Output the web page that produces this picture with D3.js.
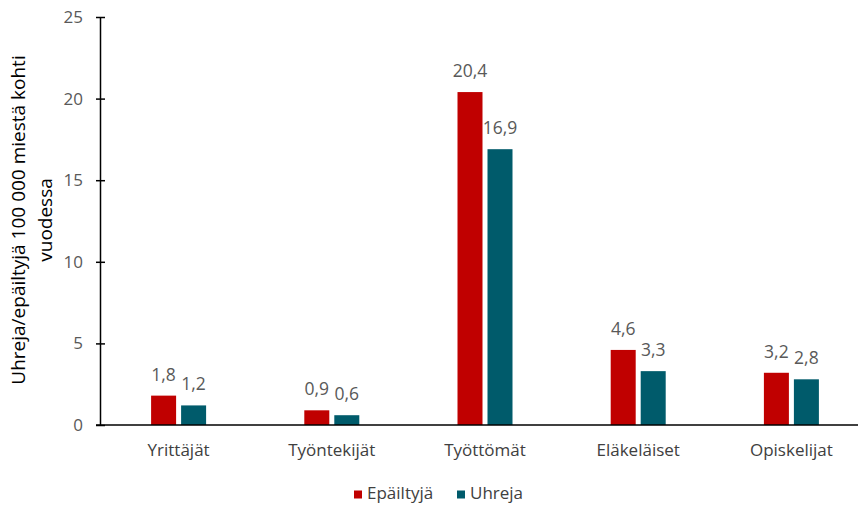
<!DOCTYPE html>
<html>
<head>
<meta charset="utf-8">
<script src="https://cdn.jsdelivr.net/npm/d3@7"></script>
<style>
  body { margin: 0; background: #fff; }
  svg text { font-family: "Open Sans", "Noto Sans", sans-serif; }
</style>
</head>
<body>
<svg id="chart" width="858" height="505"></svg>
<script>
// categories and series
const categories = ["Yrittäjät", "Työntekijät", "Työttömät", "Eläkeläiset", "Opiskelijat"];
const seriesNames = ["Epäiltyjä", "Uhreja"];
const suspects = [1.8, 0.9, 20.4, 4.6, 3.2];
const victims = [1.2, 0.6, 16.9, 3.3, 2.8];
const yTicks = [0, 5, 10, 15, 20, 25];
const colors = ["#C00000", "#005B6B"];

const width = 858, height = 505;
const svg = d3.select("#chart");

let fmt = d => d.toFixed(1).replace(".", ",");

// scales
let x = d3.scaleBand().domain(categories).range([102, 868]);
let xInner = d3.scaleBand().domain(seriesNames)
    .range([x.bandwidth() / 2 - 27.5, x.bandwidth() / 2 + 27.5])
    .paddingInner(1 / 6);
let y = d3.scaleLinear().domain([0, 25]).range([425, 17]);

let rows = categories.map((c, i) => ({cat: c, values: [suspects[i], victims[i]]}));

// bars
let groups = svg.selectAll(".grp").data(rows).enter()
    .append("g")
    .attr("class", "grp")
    .attr("transform", d => "translate(" + x(d.cat) + ",0)");

groups.selectAll("rect")
    .data(d => d.values.map((v, j) => ({name: seriesNames[j], v: v, j: j})))
    .enter().append("rect")
    .attr("x", d => xInner(d.name))
    .attr("y", d => y(d.v))
    .attr("width", xInner.bandwidth())
    .attr("height", d => y(0) - y(d.v))
    .attr("fill", d => colors[d.j]);

groups.selectAll(".lbl")
    .data(d => d.values.map((v, j) => ({name: seriesNames[j], v: v, j: j})))
    .enter().append("text")
    .attr("class", "lbl")
    .attr("x", d => xInner(d.name) + xInner.bandwidth() / 2)
    .attr("y", d => y(d.v) - 15)
    .attr("text-anchor", "middle")
    .attr("font-size", 17.5)
    .attr("fill", "#595959")
    .text(d => fmt(d.v));

// y axis
let yAxis = svg.append("g")
    .attr("transform", "translate(100,0)")
    .call(d3.axisLeft(y).tickValues(yTicks).tickSize(0).tickPadding(17));
yAxis.select(".domain").attr("stroke", "#000").attr("stroke-width", 1.5);
yAxis.selectAll(".tick line").attr("x1", -4).attr("x2", 5)
    .attr("stroke", "#000").attr("stroke-width", 1.5);
yAxis.selectAll(".tick text")
    .attr("font-size", 17)
    .attr("fill", "#595959")
    .style("font-family", "'Open Sans', sans-serif");

// x axis line + category labels
svg.append("line")
    .attr("x1", 96).attr("x2", width)
    .attr("y1", y(0)).attr("y2", y(0))
    .attr("stroke", "#000").attr("stroke-width", 1.5);

svg.selectAll(".cat").data(categories).enter()
    .append("text")
    .attr("class", "cat")
    .attr("x", d => x(d) + x.bandwidth() / 2)
    .attr("y", 456)
    .attr("text-anchor", "middle")
    .attr("font-size", 17)
    .attr("fill", "#404040")
    .text(d => d);

// y title
let title = svg.append("text")
    .attr("transform", "translate(25,220) rotate(-90)")
    .attr("text-anchor", "middle")
    .attr("font-size", 19)
    .attr("fill", "#000");
title.append("tspan").attr("x", 0).attr("dy", 0).text("Uhreja/epäiltyjä 100 000 miestä kohti");
title.append("tspan").attr("x", 0).attr("dy", 27).text("vuodessa");

// legend
let legendX = [354, 457];
let legend = svg.selectAll(".leg").data(seriesNames).enter()
    .append("g")
    .attr("class", "leg")
    .attr("transform", (d, i) => "translate(" + legendX[i] + ",490.5)");
legend.append("rect").attr("width", 8).attr("height", 8).attr("fill", (d, i) => colors[i]);
legend.append("text").attr("x", 13).attr("y", 8)
    .attr("font-size", 17).attr("fill", "#404040").text(d => d);
</script>
</body>
</html>
